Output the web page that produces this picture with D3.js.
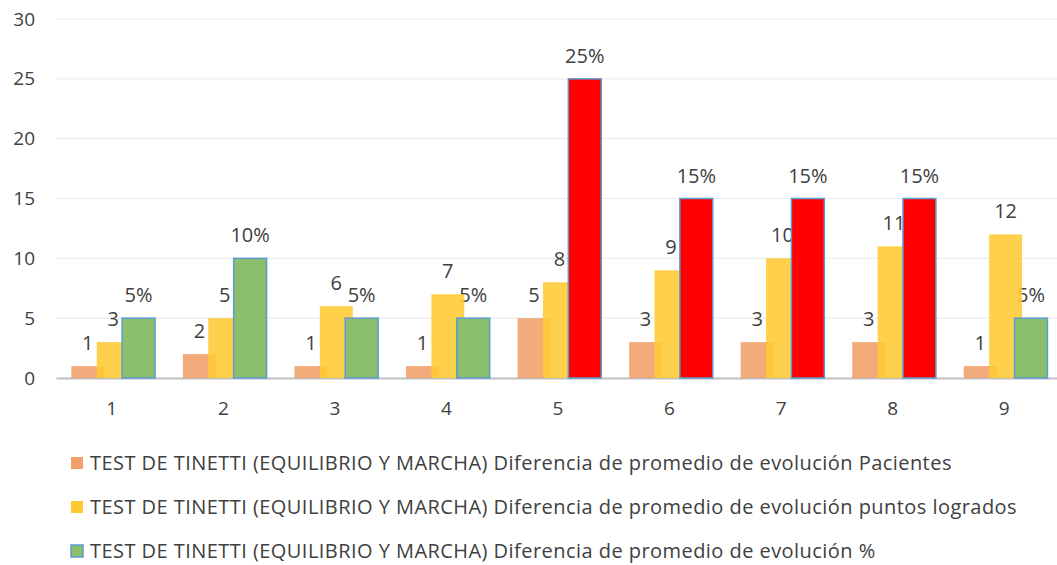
<!DOCTYPE html>
<html>
<head>
<meta charset="utf-8">
<script src="https://cdn.jsdelivr.net/npm/d3@7"></script>
<style>
  body { margin: 0; background: #fff; }
  text { font-family: "Open Sans", "Noto Sans", sans-serif; fill: #404040; }
</style>
</head>
<body>
<svg id="chart" width="1057" height="565"></svg>
<script>
const categories = ["1", "2", "3", "4", "5", "6", "7", "8", "9"];
const pacientes = [1, 2, 1, 1, 5, 3, 3, 3, 1];
const puntos = [3, 5, 6, 7, 8, 9, 10, 11, 12];
const porcentaje = [5, 10, 5, 5, 25, 15, 15, 15, 5];
const yTicks = [0, 5, 10, 15, 20, 25, 30];
const seriesNames = [
  "TEST DE TINETTI (EQUILIBRIO Y MARCHA) Diferencia de promedio de evolución Pacientes",
  "TEST DE TINETTI (EQUILIBRIO Y MARCHA) Diferencia de promedio de evolución puntos logrados",
  "TEST DE TINETTI (EQUILIBRIO Y MARCHA) Diferencia de promedio de evolución %"
];

const svg = d3.select("#chart");
const margin = {top: 19, right: -3, bottom: 187, left: 56};
const width = 1057 - margin.left - margin.right;
const height = 565 - margin.top - margin.bottom;

const x = d3.scaleBand().domain(categories).range([0, width]);
const y = d3.scaleLinear().domain([0, 30]).range([height, 0]);
const step = x.step();
const barW = step * 0.295;
// series offsets inside a category (bars overlap a little)
const off = d3.scalePoint().domain([0, 1, 2]).range([-step * 0.215, step * 0.24]);

const g = svg.append("g").attr("transform", "translate(" + margin.left + "," + margin.top + ")");

// gridlines
g.append("g")
  .selectAll("line")
  .data(yTicks.slice(1))
  .enter().append("line")
    .attr("x1", 0).attr("x2", width)
    .attr("y1", d => y(d)).attr("y2", d => y(d))
    .attr("stroke", "#ececec").attr("stroke-width", 1.2);

// y axis labels
g.append("g")
  .call(d3.axisLeft(y).tickValues(yTicks).tickSize(0).tickPadding(21))
  .call(a => a.select(".domain").remove())
  .selectAll("text")
    .attr("font-size", 19).attr("fill", "#404040")
    .style("font-family", "Open Sans, sans-serif");

// x axis
g.append("g")
  .attr("transform", "translate(0," + height + ")")
  .call(d3.axisBottom(x).tickSize(0).tickPadding(24))
  .call(a => a.select(".domain").attr("stroke", "#bfbfbf").attr("stroke-width", 2))
  .selectAll("text")
    .attr("font-size", 19).attr("fill", "#404040")
    .style("font-family", "Open Sans, sans-serif");

const rows = categories.map((c, i) => ({
  cat: c,
  vals: [pacientes[i], puntos[i], porcentaje[i]]
}));

function fillFor(s, v) {
  if (s === 0) return "#f0a06a";
  if (s === 1) return "#ffc932";
  return v > 10 ? "#ff0000" : "#8cbf6c";
}

// labels (drawn under the bars)
const labels = g.append("g");
rows.forEach(r => {
  r.vals.forEach((v, s) => {
    labels.append("text")
      .attr("x", x(r.cat) + step / 2 + off(s))
      .attr("y", y(v) - 16)
      .attr("text-anchor", "middle")
      .attr("font-size", 20)
      .text(s === 2 ? v + "%" : v);
  });
});

// bars
const bars = g.append("g");
[0, 1, 2].forEach(s => {
  bars.selectAll(".bar" + s)
    .data(rows)
    .enter().append("rect")
      .attr("class", "bar" + s)
      .attr("x", d => x(d.cat) + step / 2 + off(s) - barW / 2)
      .attr("y", d => y(d.vals[s]))
      .attr("width", barW)
      .attr("height", d => height - y(d.vals[s]))
      .attr("fill", d => fillFor(s, d.vals[s]))
      .attr("fill-opacity", s === 2 ? 1 : 0.88)
      .attr("stroke", s === 2 ? "#5b9bd5" : "none")
      .attr("stroke-width", 1.5);
});

// legend
const legend = svg.append("g").attr("transform", "translate(71,463)");
seriesNames.forEach((name, i) => {
  const row = legend.append("g").attr("transform", "translate(0," + (i * 44) + ")");
  row.append("rect")
    .attr("x", 0).attr("y", -6).attr("width", 12).attr("height", 12)
    .attr("fill", i === 0 ? "#f0a06a" : i === 1 ? "#ffc932" : "#8cbf6c")
    .attr("stroke", i === 2 ? "#5b9bd5" : "none").attr("stroke-width", 1.5);
  row.append("text")
    .attr("x", 19).attr("y", 0).attr("dy", "0.35em")
    .attr("font-size", 20)
    .attr("letter-spacing", 0.45)
    .text(name);
});
</script>
</body>
</html>
